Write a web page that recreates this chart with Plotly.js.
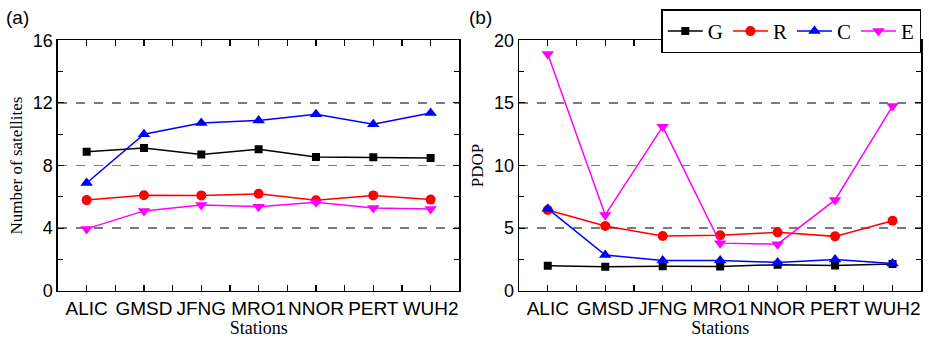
<!DOCTYPE html>
<html><head><meta charset="utf-8">
<script src="https://cdn.plot.ly/plotly-3.0.1.min.js"></script>
<style>html,body{margin:0;padding:0;background:#fff}#c{width:929px;height:338px}</style>
</head><body><div id="c"></div>
<script>
const stations = ["ALIC","GMSD","JFNG","MRO1","NNOR","PERT","WUH2"];
const seriesNames = ["G","R","C","E"];
// Number of satellites (a)
const satG = [8.88, 9.12, 8.71, 9.04, 8.54, 8.53, 8.48];
const satR = [5.79, 6.10, 6.09, 6.19, 5.78, 6.09, 5.82];
const satC = [6.88, 10.0, 10.72, 10.88, 11.27, 10.63, 11.35];
const satE = [3.95, 5.10, 5.47, 5.37, 5.65, 5.28, 5.22];
// PDOP (b)
const pdopG = [2.0, 1.92, 1.96, 1.94, 2.08, 2.02, 2.14];
const pdopR = [6.44, 5.17, 4.37, 4.42, 4.66, 4.34, 5.59];
const pdopC = [6.55, 2.85, 2.42, 2.42, 2.26, 2.5, 2.18];
const pdopE = [18.9, 6.05, 13.1, 3.8, 3.72, 7.25, 14.75];
const yTicksA = [0,4,8,12,16];
const yTicksB = [0,5,10,15,20];

const stationIdx = stations.map((s, i) => i);
// tick positions: each station plus a blank tick halfway between stations
const xTickVals = [], xTickText = [];
stationIdx.forEach((i) => {
  xTickVals.push(i); xTickText.push(stations[i]);
  if (i < stations.length - 1) { xTickVals.push(i + 0.5); xTickText.push(''); }
});
const colors = ["#000000","#ff0000","#0000ff","#ff00ff"];
const symbols = ["square","circle","triangle-up","triangle-down"];
const msize = [8,10,11,11];

function mk(y, i, xa, ya, show){
  return {x: stationIdx, y: y, text: stations, type:'scatter', mode:'lines+markers', name: seriesNames[i],
    xaxis: xa, yaxis: ya, showlegend: show,
    line:{color: colors[i], width:1.5},
    marker:{color: colors[i], symbol: symbols[i], size: msize[i], line:{width:0}}};
}
const traces = [
  mk(satG,0,'x','y',false), mk(satR,1,'x','y',false), mk(satC,2,'x','y',false), mk(satE,3,'x','y',false),
  mk(pdopG,0,'x2','y2',true), mk(pdopR,1,'x2','y2',true), mk(pdopC,2,'x2','y2',true), mk(pdopE,3,'x2','y2',true)
];

const yTickFont = {family:'Liberation Sans, Arial, sans-serif', size:18, color:'#000'};
const xTickFont = {family:'Liberation Sans, Arial, sans-serif', size:19, color:'#000'};
const titleFont = {family:'Liberation Serif, Times New Roman, serif', size:18, color:'#000'};
function xax(dom){
  return {domain: dom, type:'linear', range:[-0.5,6.5], tickmode:'array', tickvals: xTickVals, ticktext: xTickText,
    tickangle:0, showline:true, mirror:'ticks',
    linecolor:'#000', linewidth:1.5, ticks:'inside', ticklen:6, tickwidth:1.2, tickcolor:'#000',
    showgrid:false, zeroline:false, tickfont: xTickFont,
    title:{text:'Stations', font: titleFont, standoff:2}};
}
function yax(anchor, range, vals, d, title){
  return {anchor: anchor, domain:[0.1399,0.8808], range: range, tickvals: vals, ticktext: vals.map(String),
    showline:true, mirror:'ticks', linecolor:'#000', linewidth:1.5,
    ticks:'inside', ticklen:6, tickwidth:1.2, tickcolor:'#000',
    showgrid:true, gridcolor:'#7a7a7a', gridwidth:1.3, griddash:'dash', zeroline:false,
    tickfont: yTickFont,
    minor:{dtick:d, tick0:0, ticks:'inside', ticklen:5, tickwidth:1.2, tickcolor:'#000', showgrid:false},
    title:{text:title, font: {family:'Liberation Serif, Times New Roman, serif', size:17, color:'#000'}, standoff:6}};
}
const layout = {
  width:929, height:338, margin:{l:0,r:0,t:0,b:0},
  paper_bgcolor:'#fff', plot_bgcolor:'#fff',
  xaxis: Object.assign(xax([0.0624,0.4944]), {anchor:'y'}),
  yaxis: yax('x',[0,16],yTicksA,2,'Number of satellites'),
  xaxis2: Object.assign(xax([0.5587,0.9917]), {anchor:'y2'}),
  yaxis2: yax('x2',[0,20],yTicksB,2.5,'PDOP'),
  showlegend:true,
  legend:{orientation:'h', x:0.9917, xanchor:'right', y:0.972, yanchor:'top',
    bordercolor:'#000', borderwidth:1.5, bgcolor:'#fff',
    font:{family:'Liberation Serif, Times New Roman, serif', size:21, color:'#000'},
    itemwidth:35, tracegroupgap:0},
  annotations:[
    {text:'(a)', xref:'paper', yref:'paper', x:0.004, y:0.985, xanchor:'left', yanchor:'top', showarrow:false,
     font:{family:'Liberation Sans, Arial, sans-serif', size:19, color:'#000'}},
    {text:'(b)', xref:'paper', yref:'paper', x:0.503, y:0.985, xanchor:'left', yanchor:'top', showarrow:false,
     font:{family:'Liberation Sans, Arial, sans-serif', size:19, color:'#000'}}
  ]
};
Plotly.newPlot('c', traces, layout, {displayModeBar:false, staticPlot:true});
</script></body></html>
